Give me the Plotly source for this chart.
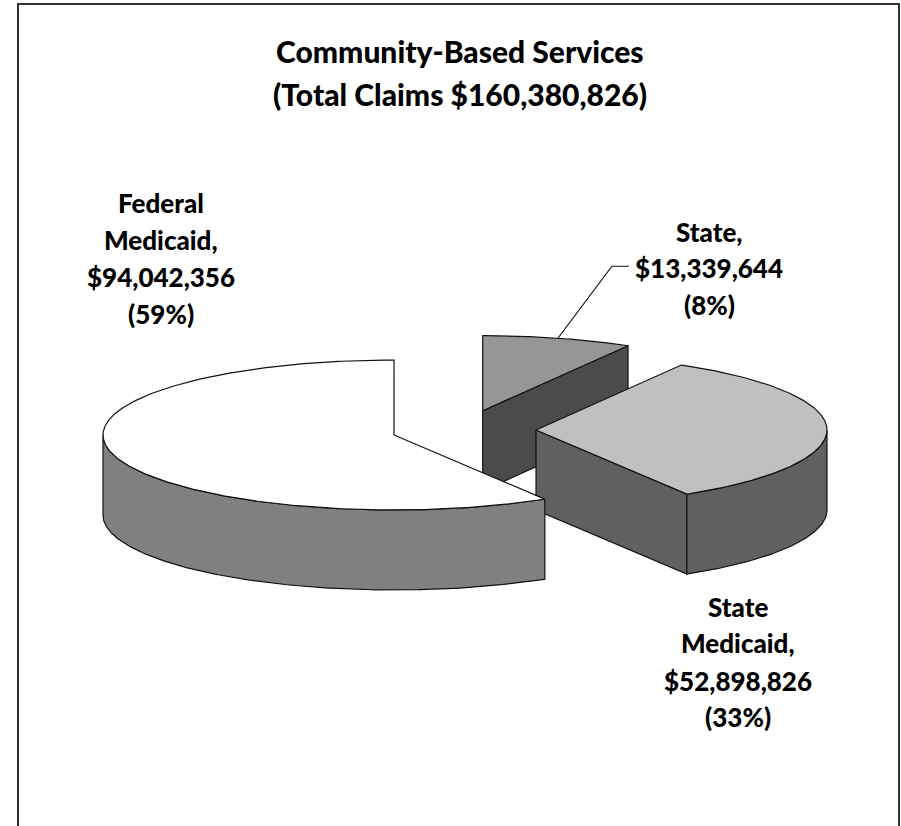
import numpy as np
import plotly.graph_objects as go

categories = ["State", "State Medicaid", "Federal Medicaid"]
values = [13339644, 52898826, 94042356]
title_lines = ["Community-Based Services", "(Total Claims $160,380,826)"]
label_lines = [
    ["State,", "$13,339,644", "(8%)"],
    ["State", "Medicaid,", "$52,898,826", "(33%)"],
    ["Federal", "Medicaid,", "$94,042,356", "(59%)"],
]
top_colors = ["#969696", "#c0c0c0", "#ffffff"]
wall_colors = ["#4b4b4b", "#606060", "#808080"]

# projection of the tilted pie onto the page
RX, RY, DEPTH = 291, 75, 80
CENTERS = [(482.7, 410.7), (536, 430), (394, 435)]
LABEL_X = [709, 738, 161]
LABEL_Y = [[232, 268, 305], [607, 643, 681, 717], [203, 240, 277, 314]]
FONT = "Lato"
INK = "#111111"

total = sum(values)
sweeps = [v / total * 360 for v in values]
starts = np.concatenate([[0], np.cumsum(sweeps)[:-1]])


def rim(c, a, drop=0):
    r = np.radians(a)
    return c[0] + RX * np.sin(r), c[1] - RY * np.cos(r) + drop


def arc(c, a0, a1, drop=0):
    n = max(2, int(abs(a1 - a0) * 2))
    return rim(c, np.linspace(a0, a1, n), drop)


fig = go.Figure()


def poly(xs, ys, color, closed=True):
    fig.add_trace(go.Scatter(x=list(xs), y=list(ys), mode="lines", fill="toself" if closed else None,
                             fillcolor=color, line=dict(color=INK, width=1.2),
                             hoverinfo="skip", showlegend=False))


for i in range(3):
    c = CENTERS[i]
    a0, a1 = starts[i], starts[i] + sweeps[i]
    # radial cut faces that turn towards the viewer
    if i < 2:
        ex, ey = rim(c, a1)
        poly([c[0], ex, ex, c[0], c[0]], [c[1], ey, ey + DEPTH, c[1] + DEPTH, c[1]], wall_colors[i])
    # outer wall: the part of the rim on the near side
    w0, w1 = max(a0, 90), min(a1, 270)
    if w1 > w0:
        tx, ty = arc(c, w0, w1)
        bx, by = arc(c, w1, w0, DEPTH)
        poly(np.r_[tx, bx, tx[0]], np.r_[ty, by, ty[0]], wall_colors[i])
    # top face
    tx, ty = arc(c, a0, a1)
    poly(np.r_[c[0], tx, c[0]], np.r_[c[1], ty, c[1]], top_colors[i])

# leader line for the State label, from the middle of its rim
lx, ly = rim(CENTERS[0], starts[0] + sweeps[0] / 2)
fig.add_trace(go.Scatter(x=[lx, lx + 54, lx + 71], y=[ly, ly - 72, ly - 72], mode="lines",
                         line=dict(color=INK, width=1.2), hoverinfo="skip", showlegend=False))

annotations = []
for line, y in zip(title_lines, [51, 94]):
    annotations.append(dict(x=460, y=y, text=line, showarrow=False, xref="x", yref="y",
                            xanchor="center", yanchor="middle",
                            font=dict(family=FONT, size=30, weight=900, color="#000000")))
for i in range(3):
    for line, y in zip(label_lines[i], LABEL_Y[i]):
        annotations.append(dict(x=LABEL_X[i], y=y, text=line, showarrow=False, xref="x", yref="y",
                                xanchor="center", yanchor="middle",
                                font=dict(family=FONT, size=26, weight=900, color="#000000")))

fig.update_layout(
    width=901, height=826, margin=dict(l=0, r=0, t=0, b=0),
    paper_bgcolor="white", plot_bgcolor="white", showlegend=False,
    xaxis=dict(range=[0, 901], visible=False, fixedrange=True),
    yaxis=dict(range=[826, 0], visible=False, fixedrange=True),
    annotations=annotations,
    shapes=[dict(type="rect", xref="x", yref="y", x0=18, y0=4, x1=899, y1=840,
                 line=dict(color="#333333", width=2), layer="below")],
)
fig.write_html("out.html", config=dict(displayModeBar=False),
               post_script="document.body.style.margin='0';document.body.style.overflow='hidden';")
